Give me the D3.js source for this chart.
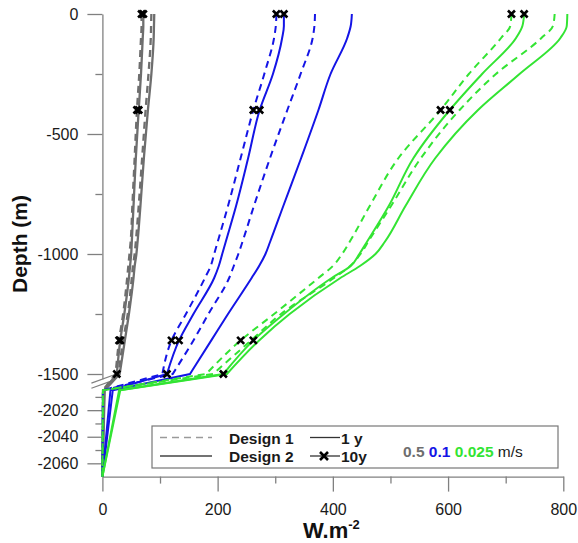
<!DOCTYPE html>
<html>
<head>
<meta charset="utf-8">
<script src="https://cdn.jsdelivr.net/npm/d3@7"></script>
<style>
    body { margin: 0; background: #fff; }
    text { font-family: Arial, "Liberation Sans", sans-serif; }
</style>
</head>
<body>
<div id="chart"></div>
<script>
// depth of each sample (m); the part between -1540 and -2000 is cut out of the axis
const depths = [0, -50, -100, -250, -400, -600, -800, -950, -1000, -1050, -1100, -1250, -1360, -1500, -2005, -2070];
// the smooth part of each curve ends at this depth, below it the curve is straight segments
const smoothEnd = -1500;
// depths where the 10y curves carry a cross (design 1 has none at -1500)
const markerDepthsD1 = [0, -400, -1360];
const markerDepthsD2 = [0, -400, -1360, -1500];

// heat flux (W.m-2), one array per curve
// 0.5 m/s
const gray_d1_1y  = [85, 84.5, 84, 80, 75, 69, 63, 58, 56, 53, 51, 44, 36, 28, 1, 0];
const gray_d2_1y  = [90, 89.5, 89, 85, 79, 72, 66, 61, 59, 56, 54, 46, 39, 30, 4, 0];
const gray_d1_10y = [68, 68, 67, 64, 60, 56, 52, 49, 47, 45, 43, 36, 29, 23, 1, 0];
const gray_d2_10y = [71, 71, 70, 67, 63, 58, 54, 51, 50, 48, 46, 38, 31, 25, 3, 0];
// 0.1 m/s
const blue_d1_1y  = [369, 368, 365, 344, 321, 291, 263, 243, 236, 228, 220, 184, 158, 122, 1, 0];
const blue_d2_1y  = [433, 431, 425, 396, 375, 345, 314, 291, 283, 272, 259, 218, 189, 152, 18, 0];
const blue_d1_10y = [302, 301, 298, 281, 262, 240, 218, 200, 194, 188, 178, 145, 120, 104, 1, 0];
const blue_d2_10y = [315, 315, 312, 296, 273, 253, 232, 214, 208, 202, 194, 158, 133, 112, 14, 0];
// 0.025 m/s
const green_d1_1y  = [785, 782, 762, 683, 620, 553, 501, 461, 448, 430, 402, 310, 258, 192, 1, 0];
const green_d2_1y  = [807, 806, 795, 724, 652, 578, 526, 490, 474, 447, 413, 325, 272, 216, 31, 0];
const green_d1_10y = [710, 708, 692, 636, 587, 514, 464, 429, 416, 400, 375, 298, 240, 180, 1, 0];
const green_d2_10y = [732, 729, 718, 659, 603, 540, 497, 459, 446, 431, 398, 315, 262, 210, 29, 0];

const speeds = ['0.5', '0.1', '0.025'];
const speedColors = ['#6e6e6e', '#1414e6', '#33e433'];

const xTicks = [0, 200, 400, 600, 800];
const xMinorTicks = [100, 300, 500, 700];
const yTicksTop = [0, -500, -1000, -1500];
const yMinorTop = [-250, -750, -1250];
const yTicksBottom = [-2020, -2040, -2060];
const yMinorBottom = [-2010, -2030, -2050];

const curves = [
    {speed: 0, design: 1, time: '1y', values: gray_d1_1y},
    {speed: 0, design: 2, time: '1y', values: gray_d2_1y},
    {speed: 0, design: 1, time: '10y', values: gray_d1_10y},
    {speed: 0, design: 2, time: '10y', values: gray_d2_10y},
    {speed: 1, design: 1, time: '1y', values: blue_d1_1y},
    {speed: 1, design: 2, time: '1y', values: blue_d2_1y},
    {speed: 1, design: 1, time: '10y', values: blue_d1_10y},
    {speed: 1, design: 2, time: '10y', values: blue_d2_10y},
    {speed: 2, design: 1, time: '1y', values: green_d1_1y},
    {speed: 2, design: 2, time: '1y', values: green_d2_1y},
    {speed: 2, design: 1, time: '10y', values: green_d1_10y},
    {speed: 2, design: 2, time: '10y', values: green_d2_10y}
];

class DepthProfile {
    constructor(_config, _data) {
        this.config = {
            parentElement: _config.parentElement,
            width: 578,
            height: 543
        };
        this.data = _data;
        this.initVis();
    }

    initVis() {
        let vis = this;

        vis.svg = d3.select(vis.config.parentElement)
            .append('svg')
            .attr('width', vis.config.width)
            .attr('height', vis.config.height);

        vis.xScale = d3.scaleLinear().domain([0, 800]).range([102.4, 563.3]);
        // broken depth axis: -1540 and -2000 meet at the same pixel
        vis.yScale = d3.scaleLinear()
            .domain([0, -1540, -2000, -2070])
            .range([14, 383.6, 383.6, 476.6]);

        const axisColor = '#808080';
        const x0 = vis.xScale(0);
        const yBottom = vis.yScale(-2070);

        // x axis
        vis.svg.append('g')
            .attr('transform', `translate(0,${yBottom})`)
            .call(d3.axisBottom(vis.xScale).tickValues(xTicks).tickSize(15).tickSizeOuter(0)
                .tickPadding(12).tickFormat(d => String(d)));
        vis.svg.append('g')
            .attr('transform', `translate(0,${yBottom})`)
            .call(d3.axisBottom(vis.xScale).tickValues(xMinorTicks).tickSize(7).tickSizeOuter(0).tickFormat(''))
            .call(g => g.select('.domain').remove());

        // y axis, upper part
        const yTop = d3.scaleLinear().domain([0, -1520]).range([vis.yScale(0), vis.yScale(-1520)]);
        vis.svg.append('g')
            .attr('transform', `translate(${x0},0)`)
            .call(d3.axisLeft(yTop).tickValues(yTicksTop).tickSize(15).tickSizeOuter(0)
                .tickPadding(9).tickFormat(d => String(d)));
        vis.svg.append('g')
            .attr('transform', `translate(${x0},0)`)
            .call(d3.axisLeft(yTop).tickValues(yMinorTop).tickSize(7).tickSizeOuter(0).tickFormat(''))
            .call(g => g.select('.domain').remove());

        // y axis, lower part
        const yLow = d3.scaleLinear().domain([-2004, -2070]).range([vis.yScale(-2004), yBottom]);
        vis.svg.append('g')
            .attr('transform', `translate(${x0},0)`)
            .call(d3.axisLeft(yLow).tickValues(yTicksBottom).tickSize(15).tickSizeOuter(0)
                .tickPadding(9).tickFormat(d => String(d)));
        vis.svg.append('g')
            .attr('transform', `translate(${x0},0)`)
            .call(d3.axisLeft(yLow).tickValues(yMinorBottom).tickSize(7).tickSizeOuter(0).tickFormat(''))
            .call(g => g.select('.domain').remove());

        vis.svg.selectAll('.domain, .tick line')
            .attr('stroke', axisColor)
            .attr('stroke-width', 1.3);
        vis.svg.selectAll('.tick text')
            .attr('fill', '#1a1a1a')
            .style('font-size', '16px')
            .style('font-family', 'Arial, "Liberation Sans", sans-serif');

        // axis break marks
        const yb = vis.yScale(-1540);
        [[-0.5, -8.8], [4.6, -3.7]].forEach(([a, b]) => {
            vis.svg.append('line')
                .attr('x1', x0 - 11).attr('y1', yb + a)
                .attr('x2', x0 + 12).attr('y2', yb + b)
                .attr('stroke', axisColor)
                .attr('stroke-width', 1.2);
        });

        // axis labels
        const xLab = vis.svg.append('text')
            .attr('x', 303)
            .attr('y', 538)
            .style('font-size', '22px')
            .style('font-weight', 'bold')
            .attr('fill', '#111');
        xLab.append('tspan').text('W.m');
        xLab.append('tspan').attr('dy', -9).style('font-size', '13px').text('-2');

        vis.svg.append('text')
            .attr('transform', `translate(27,244) rotate(-90)`)
            .style('text-anchor', 'middle')
            .style('font-size', '21px')
            .style('font-weight', 'bold')
            .attr('fill', '#111')
            .text('Depth (m)');

        vis.renderVis();
        vis.renderLegend();
    }

    renderVis() {
        let vis = this;

        const smooth = d3.line()
            .x(d => vis.xScale(d.v))
            .y(d => vis.yScale(d.depth))
            .curve(d3.curveMonotoneY);

        // smooth down to -1500, then straight segments through the break to the bottom
        const curvePath = c => {
            const pts = c.values.map((v, i) => ({v, depth: depths[i]}));
            const upper = pts.filter(p => p.depth >= smoothEnd);
            const lower = pts.filter(p => p.depth < smoothEnd);
            return smooth(upper) + lower.map(p => `L${vis.xScale(p.v)},${vis.yScale(p.depth)}`).join('');
        };

        vis.svg.append('g').selectAll('.curve')
            .data(vis.data)
        .join('path')
            .attr('class', 'curve')
            .attr('d', curvePath)
            .attr('fill', 'none')
            .attr('stroke', c => speedColors[c.speed])
            .attr('stroke-width', c => c.speed === 0 ? 2.3 : 2)
            .attr('stroke-dasharray', c => c.design === 1 ? '7,5' : null);

        // crosses on the 10y curves
        const marks = [];
        vis.data.filter(c => c.time === '10y').forEach(c => {
            const mds = c.design === 1 ? markerDepthsD1 : markerDepthsD2;
            mds.forEach(md => {
                const i = depths.indexOf(md);
                marks.push({v: c.values[i], depth: md});
            });
        });
        vis.svg.append('g').selectAll('.mark')
            .data(marks)
        .join('path')
            .attr('class', 'mark')
            .attr('transform', d => `translate(${vis.xScale(d.v)},${vis.yScale(d.depth)})`)
            .attr('d', 'M-3.5,-3.5L3.5,3.5M-3.5,3.5L3.5,-3.5')
            .attr('stroke', '#000')
            .attr('stroke-width', 2.6);
    }

    renderLegend() {
        let vis = this;

        const lg = vis.svg.append('g');
        lg.append('rect')
            .attr('x', 152).attr('y', 426)
            .attr('width', 406).attr('height', 42)
            .attr('fill', '#fff')
            .attr('stroke', '#777')
            .attr('stroke-width', 1.2);

        const r1 = 437.5, r2 = 456;
        lg.append('line').attr('x1', 160).attr('x2', 212).attr('y1', r1).attr('y2', r1)
            .attr('stroke', '#9a9a9a').attr('stroke-width', 1.5).attr('stroke-dasharray', '7,5');
        lg.append('line').attr('x1', 160).attr('x2', 212).attr('y1', r2).attr('y2', r2)
            .attr('stroke', '#444').attr('stroke-width', 1.3);
        lg.append('line').attr('x1', 310).attr('x2', 340).attr('y1', r1).attr('y2', r1)
            .attr('stroke', '#333').attr('stroke-width', 1.3);
        lg.append('line').attr('x1', 310).attr('x2', 340).attr('y1', r2).attr('y2', r2)
            .attr('stroke', '#333').attr('stroke-width', 1.3);
        lg.append('path')
            .attr('transform', `translate(324,${r2})`)
            .attr('d', 'M-4,-4L4,4M-4,4L4,-4')
            .attr('stroke', '#000').attr('stroke-width', 2.6);

        const txt = [['Design 1', 229, r1 + 6], ['Design 2', 229, r2 + 6], ['1 y', 341, r1 + 6], ['10y', 341, r2 + 6]];
        txt.forEach(([t, x, y]) => {
            lg.append('text').attr('x', x).attr('y', y)
                .style('font-size', '15.5px').style('font-weight', 'bold')
                .attr('fill', '#1a1a1a').text(t);
        });

        const sp = lg.append('text').attr('x', 403).attr('y', 456.5).style('font-size', '15.5px');
        speeds.forEach((s, i) => {
            sp.append('tspan').attr('fill', speedColors[i]).style('font-weight', 'bold')
                .text(s + ' ');
        });
        sp.append('tspan').attr('fill', '#1a1a1a').text('m/s');
    }
}

new DepthProfile({parentElement: '#chart'}, curves);
</script>
</body>
</html>
